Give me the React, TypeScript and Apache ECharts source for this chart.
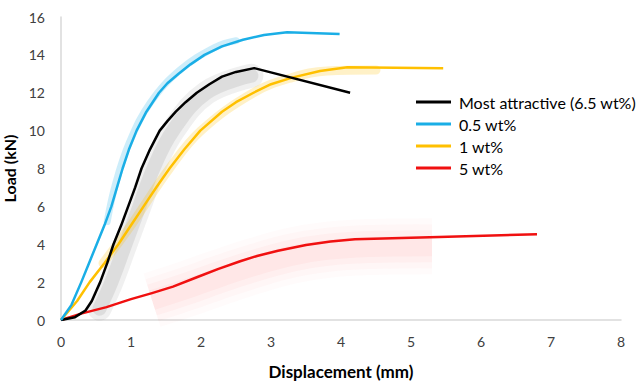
import React, { useEffect, useRef } from "react";
import * as echarts from "echarts";

const xTicks = [0, 1, 2, 3, 4, 5, 6, 7, 8];
const yTicks = [0, 2, 4, 6, 8, 10, 12, 14, 16];

const seriesNames = ["Most attractive (6.5 wt%)", "0.5 wt%", "1 wt%", "5 wt%"];
const seriesColors = ["#000000", "#1AAEE6", "#FFC000", "#F01010"];

const blackData = [
  [0, 0], [0.2, 0.15], [0.35, 0.5], [0.44, 1], [0.5, 1.5], [0.56, 2], [0.66, 3], [0.75, 4],
  [0.86, 5], [0.96, 6], [1.06, 7], [1.15, 8], [1.27, 9], [1.41, 10], [1.52, 10.5], [1.64, 11],
  [1.78, 11.5], [1.94, 12], [2.12, 12.45], [2.3, 12.85], [2.5, 13.1], [2.76, 13.3], [4.13, 12.0],
];
const cyanData = [
  [0, 0], [0.15, 0.8], [0.29, 2], [0.4, 3], [0.51, 4], [0.62, 5], [0.72, 6], [0.8, 7],
  [0.88, 8], [0.97, 9], [1.08, 10], [1.22, 11], [1.4, 12], [1.52, 12.5], [1.68, 13],
  [1.85, 13.5], [2.05, 14], [2.3, 14.45], [2.6, 14.8], [2.9, 15.05], [3.23, 15.2], [3.98, 15.1],
];
const yellowData = [
  [0, 0], [0.23, 1], [0.41, 2], [0.62, 3], [0.82, 4], [1.0, 5], [1.18, 6], [1.36, 7],
  [1.55, 8], [1.76, 9], [1.99, 10], [2.3, 11], [2.5, 11.5], [2.75, 12], [3.0, 12.45],
  [3.3, 12.8], [3.7, 13.15], [4.09, 13.35], [5.46, 13.3],
];
const redData = [
  [0, 0], [0.3, 0.35], [0.65, 0.68], [1.0, 1.1], [1.3, 1.42], [1.6, 1.76], [1.95, 2.27],
  [2.25, 2.7], [2.56, 3.1], [2.8, 3.38], [3.1, 3.66], [3.5, 3.96], [3.85, 4.15], [4.2, 4.27],
  [5.4, 4.38], [6.8, 4.53],
];

// scatter/haze bands around the curves
const grayBand = [
  [0.55, 0.6], [0.72, 2], [0.92, 4], [1.12, 6], [1.32, 8], [1.6, 10], [2.08, 12], [2.72, 12.9],
];
const cyanBand = [
  [0.66, 5.2], [0.78, 7.2], [0.98, 9.4], [1.28, 11.5], [1.7, 13.2], [2.2, 14.4], [2.5, 14.75],
];
const yellowBand = [
  [0.6, 3], [1.0, 5], [1.55, 8], [2.0, 10], [2.75, 12], [3.3, 12.8], [3.8, 13.15], [4.5, 13.2],
];
const redBand = [
  [1.3, 1.05], [1.8, 1.65], [2.3, 2.3], [2.8, 2.9], [3.3, 3.4], [3.8, 3.7], [4.4, 3.85], [5.3, 3.9],
];

export default function App() {
  const ref = useRef<HTMLDivElement>(null);
  useEffect(() => {
    if (!ref.current) return;
    const chart = echarts.init(ref.current, null, { renderer: "svg" });
    const font = "Lato, 'Open Sans', sans-serif";
    const band = (name: string, data: number[][], width: number, color: string, cap = "round") => ({
      name,
      type: "line",
      data,
      smooth: 0.4,
      symbol: "none",
      silent: true,
      z: 1,
      lineStyle: { width, color, cap, join: "round" },
    });
    const main = (i: number, data: number[][]) => ({
      name: seriesNames[i],
      type: "line",
      data,
      smooth: false,
      symbol: "none",
      z: 3,
      lineStyle: { width: 2.5, color: seriesColors[i], join: "round" },
      itemStyle: { color: seriesColors[i] },
    });
    chart.setOption({
      animation: false,
      backgroundColor: "#ffffff",
      textStyle: { fontFamily: font },
      grid: { left: 61, right: 19, top: 17, bottom: 61, containLabel: false, outerBoundsMode: "none" },
      legend: {
        data: seriesNames,
        orient: "vertical",
        left: 416,
        top: 94,
        padding: 0,
        icon: "rect",
        itemWidth: 35,
        itemHeight: 3,
        itemGap: 6,
        textStyle: { fontFamily: font, fontSize: 16, lineHeight: 16, color: "#000000", padding: [0, 0, 0, 3] },
      },
      xAxis: {
        type: "value",
        min: xTicks[0],
        max: xTicks[xTicks.length - 1],
        interval: 1,
        name: "Displacement (mm)",
        nameLocation: "middle",
        nameGap: 43,
        nameTextStyle: { fontFamily: font, fontSize: 17, fontWeight: "bold", color: "#000000" },
        axisLine: { show: true, lineStyle: { color: "#D9D9D9", width: 1.5 } },
        axisTick: { show: false },
        splitLine: { show: false },
        axisLabel: { fontSize: 14, color: "#404040", margin: 14, fontFamily: font },
      },
      yAxis: {
        type: "value",
        min: yTicks[0],
        max: yTicks[yTicks.length - 1],
        interval: 2,
        name: "Load (kN)",
        nameLocation: "middle",
        nameGap: 39,
        nameTextStyle: { fontFamily: font, fontSize: 16, fontWeight: "bold", color: "#000000" },
        axisLine: { show: true, lineStyle: { color: "#D9D9D9", width: 1.5 } },
        axisTick: { show: false },
        splitLine: { show: false },
        axisLabel: { fontSize: 14, color: "#404040", margin: 16, fontFamily: font },
      },
      series: [
        band("haze-red-1", redBand, 56, "rgba(255,90,90,0.025)", "butt"),
        band("haze-red-2", redBand, 44, "rgba(255,80,80,0.03)", "butt"),
        band("haze-red-3", redBand, 32, "rgba(255,70,70,0.035)", "butt"),
        band("haze-red-4", redBand, 20, "rgba(255,60,60,0.04)", "butt"),
        band("haze-gray-1", grayBand, 24, "rgba(150,150,150,0.14)"),
        band("haze-gray-2", grayBand, 14, "rgba(140,140,140,0.18)"),
        band("haze-cyan", cyanBand, 7, "rgba(26,174,230,0.22)"),
        band("haze-yellow", yellowBand, 9, "rgba(255,192,0,0.22)"),
        main(3, redData),
        main(2, yellowData),
        main(0, blackData),
        main(1, cyanData),
      ],
    });
    return () => chart.dispose();
  }, []);
  return <div ref={ref} style={{ position: "fixed", left: 0, top: 0, width: 640, height: 381 }} />;
}
